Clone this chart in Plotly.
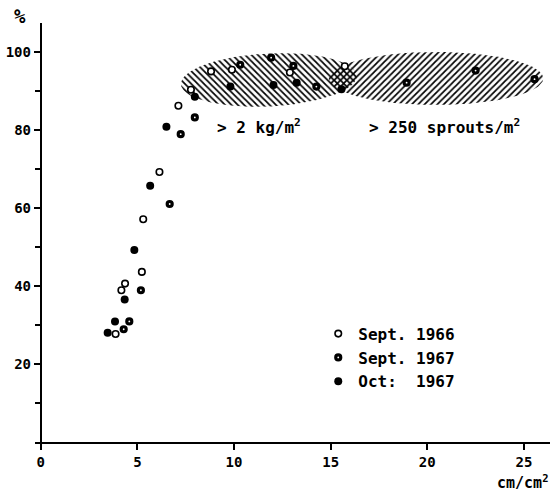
import numpy as np
import plotly.graph_objects as go

# ---- data (cm/cm^2 vs %) ----
sept66_x = [3.87, 4.17, 4.36, 5.23, 5.30, 6.14, 7.12, 7.77, 8.81, 9.89, 12.89, 15.73]
sept66_y = [27.7, 38.9, 40.6, 43.6, 57.1, 69.2, 86.2, 90.3, 95.0, 95.4, 94.7, 96.3]

sept67_x = [4.29, 4.58, 5.18, 6.67, 7.24, 7.97, 10.32, 11.92, 13.07, 14.26, 18.93, 22.50, 25.55]
sept67_y = [28.9, 30.9, 38.9, 61.0, 78.9, 83.2, 96.7, 98.5, 96.4, 91.1, 92.1, 95.2, 93.0]

oct67_x = [3.46, 3.84, 4.34, 4.84, 5.66, 6.50, 7.97, 9.81, 12.04, 13.24, 15.56]
oct67_y = [28.0, 30.9, 36.5, 49.2, 65.7, 80.8, 88.5, 91.1, 91.5, 92.1, 90.4]

legend_names = ["Sept. 1966", "Sept. 1967", "Oct:\u00a0\u00a01967"]
x_ticks = [0, 5, 10, 15, 20, 25]
y_ticks = [20, 40, 60, 80, 100]
y_minor = [10, 30, 50, 70, 90]

# hatched regions: centre x, centre y, half-width, half-height, shear
kg_region = dict(cx=11.8, cy=92.8, a=4.55, b=6.8, k=0.22)
sprout_region = dict(cx=20.45, cy=93.2, a=5.55, b=6.8, k=0.0)

FONT = "DejaVu Sans Mono"
W = "bold"


def region(r, n=200):
    t = np.linspace(0, 2 * np.pi, n)
    x = r["cx"] + r["a"] * np.cos(t)
    y = r["cy"] + r["b"] * np.sin(t) + r["k"] * (x - r["cx"])
    return x, y


fig = go.Figure()

for r, shp in [(kg_region, "\\"), (sprout_region, "/")]:
    ex, ey = region(r)
    fig.add_trace(go.Scatter(
        x=ex, y=ey, mode="lines", fill="toself",
        line=dict(width=0, color="rgba(0,0,0,0)"),
        fillcolor="rgba(0,0,0,0)",
        fillpattern=dict(shape=shp, size=4.5, solidity=0.38, fgcolor="black",
                         bgcolor="rgba(0,0,0,0)", fillmode="replace"),
        showlegend=False, hoverinfo="skip"))

fig.add_trace(go.Scatter(
    x=sept66_x, y=sept66_y, mode="markers", name=legend_names[0],
    marker=dict(symbol="circle", size=6.5, color="white",
                line=dict(color="black", width=1.6))))
fig.add_trace(go.Scatter(
    x=sept67_x, y=sept67_y, mode="markers", name=legend_names[1],
    marker=dict(symbol="circle", size=5, color="white",
                line=dict(color="black", width=3.2))))
fig.add_trace(go.Scatter(
    x=oct67_x, y=oct67_y, mode="markers", name=legend_names[2],
    marker=dict(symbol="circle", size=8, color="black",
                line=dict(color="black", width=0))))

fig.add_annotation(x=11.3, y=80.8, text="> 2 kg/m<sup>2</sup>", showarrow=False,
                   font=dict(family=FONT, size=16, color="black", weight=W))
fig.add_annotation(x=20.9, y=80.8, text="> 250 sprouts/m<sup>2</sup>", showarrow=False,
                   font=dict(family=FONT, size=16, color="black", weight=W))
fig.add_annotation(x=0, xref="paper", xanchor="right", xshift=-7,
                   y=1, yref="paper", yanchor="bottom", yshift=-6,
                   text="%", showarrow=False,
                   font=dict(family=FONT, size=19, color="black", weight=W))
fig.add_annotation(x=1, xref="paper", xanchor="right",
                   y=0, yref="paper", yanchor="top", yshift=-28,
                   text="cm/cm<sup>2</sup>", showarrow=False,
                   font=dict(family=FONT, size=15, color="black", weight=W))

fig.update_layout(
    width=550, height=493,
    margin=dict(l=35, r=0, t=23, b=51),
    paper_bgcolor="white", plot_bgcolor="white",
    font=dict(family=FONT, size=14, color="black", weight=W),
    showlegend=True,
    legend=dict(x=0.55, y=0.299, xanchor="left", yanchor="top",
                font=dict(family=FONT, size=16, color="black", weight=W),
                bgcolor="rgba(0,0,0,0)", itemwidth=30),
    xaxis=dict(range=[-0.3, 26.35], tickvals=x_ticks, showgrid=False,
               zeroline=False, showline=True, linecolor="black", linewidth=2,
               ticks="outside", ticklen=6, tickwidth=2, tickcolor="black",
               tickfont=dict(family=FONT, size=14, color="black", weight=W)),
    yaxis=dict(range=[0, 107.4], tickvals=y_ticks, showgrid=False,
               zeroline=False, showline=True, linecolor="black", linewidth=2,
               anchor="free", position=0.3 / 26.65,
               ticks="outside", ticklen=6, tickwidth=2, tickcolor="black",
               tickfont=dict(family=FONT, size=14, color="black", weight=W),
               minor=dict(tickvals=y_minor, ticks="outside", ticklen=5,
                          tickwidth=1.5, tickcolor="black")),
)

fig.write_html("out.html", config={"displayModeBar": False},
               post_script="document.body.style.margin='0';document.body.style.padding='0';")
